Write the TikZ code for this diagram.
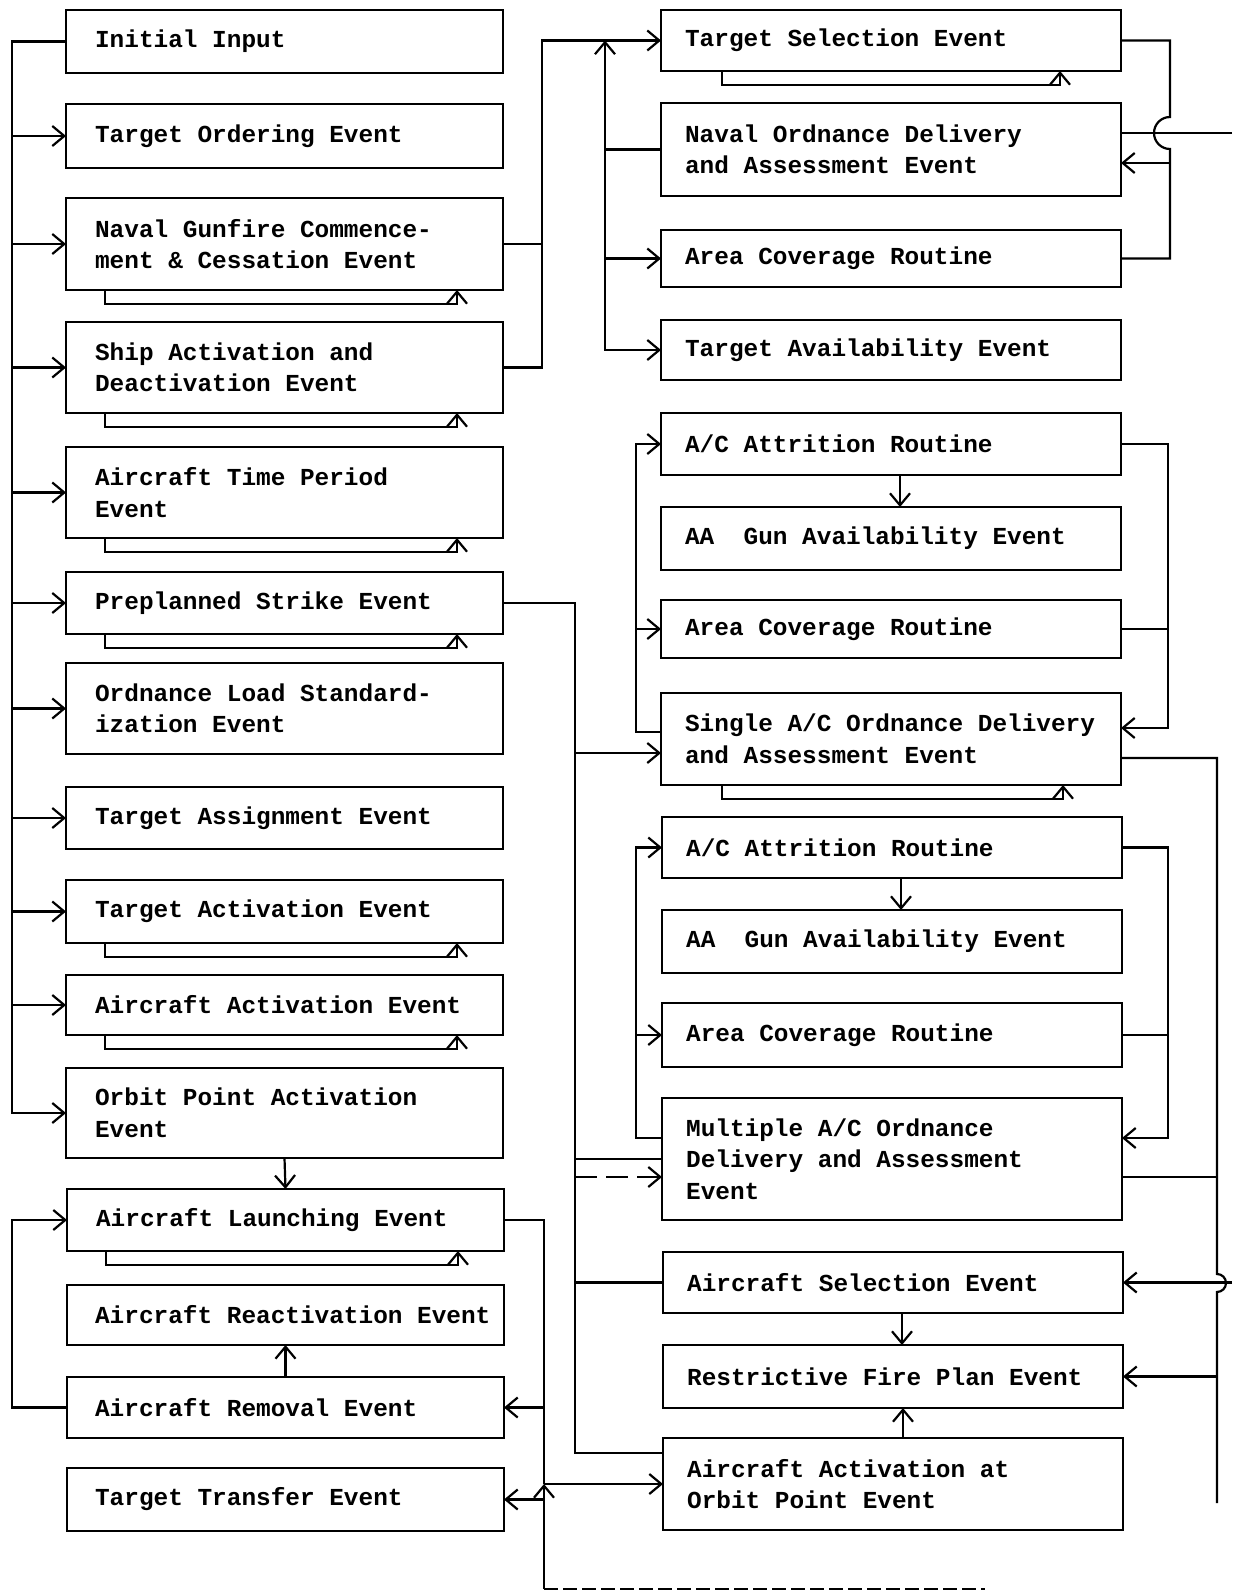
\documentclass[tikz,border=0pt]{standalone}
\usepackage{fontspec}
\setmainfont{Liberation Mono}
\usetikzlibrary{arrows.meta}
\newcommand{\mkbox}[7]{%
  \node[bx, minimum width=#3pt, minimum height={(#5-#4)*1pt}, anchor=north west] (#1) at (#2,-#4) {};
  \node[txt] (#1t) at ([xshift=#7pt]#1.west) {#6};}
\newcommand{\selfloop}[3]{%
  \draw[arr] ([xshift=#2pt]#1.south west) -- ++(0,-14) -| ([xshift=-#3pt]#1.south east);}
\begin{document}
\begin{tikzpicture}[x=1pt,y=1pt,
  bx/.style={draw, line width=2.6pt, inner sep=0pt, outer sep=0pt},
  txt/.style={inner sep=0pt, align=left, anchor=west, font=\fontsize{24.4}{31.5}\selectfont\bfseries},
  ln/.style={line width=2.2pt},
  arr/.style={ln, -{Straight Barb[length=12pt,width=20pt]}},
  every path/.style={line width=2.2pt}
]
\fill[white] (0,0) rectangle (1232,-1592);
\useasboundingbox (0,0) rectangle (1232,-1592);

% ---------- left column ----------
\mkbox{LA}{66}{437}{10}{73}{Initial Input}{28}
\mkbox{LB}{66}{437}{104}{168}{Target Ordering Event}{28}
\mkbox{LC}{66}{437}{198}{290}{Naval Gunfire Commence-\\ment \& Cessation Event}{28}
\mkbox{LD}{66}{437}{322}{413}{Ship Activation and\\Deactivation Event}{28}
\mkbox{LE}{66}{437}{447}{538}{Aircraft Time Period\\Event}{28}
\mkbox{LF}{66}{437}{572}{634}{Preplanned Strike Event}{28}
\mkbox{LG}{66}{437}{663}{754}{Ordnance Load Standard-\\ization Event}{28}
\mkbox{LH}{66}{437}{787}{849}{Target Assignment Event}{28}
\mkbox{LI}{66}{437}{880}{943}{Target Activation Event}{28}
\mkbox{LJ}{66}{437}{975}{1035}{Aircraft Activation Event}{28}
\mkbox{LK}{66}{437}{1068}{1158}{Orbit Point Activation\\Event}{28}
\mkbox{LL}{67}{437}{1189}{1251}{Aircraft Launching Event}{28}
\mkbox{LM}{67}{437}{1285}{1345}{Aircraft Reactivation Event}{27}
\mkbox{LN}{67}{437}{1377}{1438}{Aircraft Removal Event}{27}
\mkbox{LO}{67}{437}{1468}{1531}{Target Transfer Event}{27}

% ---------- right column ----------
\mkbox{TSel}{661}{460}{10}{71}{Target Selection Event}{23}
\mkbox{NOD}{661}{460}{103}{196}{Naval Ordnance Delivery\\and Assessment Event}{23}
\mkbox{ACa}{661}{460}{230}{287}{Area Coverage Routine}{23}
\mkbox{TAv}{661}{460}{320}{380}{Target Availability Event}{23}
\mkbox{Atta}{661}{460}{413}{475}{A/C Attrition Routine}{23}
\mkbox{AAa}{661}{460}{507}{570}{AA\ \ Gun Availability Event}{23}
\mkbox{ACb}{661}{460}{600}{658}{Area Coverage Routine}{23}
\mkbox{Sgl}{661}{460}{693}{785}{Single A/C Ordnance Delivery\\and Assessment Event}{23}
\mkbox{Attb}{662}{460}{817}{878}{A/C Attrition Routine}{23}
\mkbox{AAb}{662}{460}{910}{973}{AA\ \ Gun Availability Event}{23}
\mkbox{ACc}{662}{460}{1003}{1067}{Area Coverage Routine}{23}
\mkbox{Mul}{662}{460}{1098}{1220}{Multiple A/C Ordnance\\Delivery and Assessment\\Event}{23}
\mkbox{ASel}{663}{460}{1252}{1313}{Aircraft Selection Event}{23}
\mkbox{RFP}{663}{460}{1345}{1408}{Restrictive Fire Plan Event}{23}
\mkbox{AAO}{663}{460}{1438}{1530}{Aircraft Activation at\\Orbit Point Event}{23}

% ---------- x positions of buses ----------
\coordinate (xL) at (12,0);
\coordinate (xT) at (542,0);
\coordinate (xS) at (605,0);
\coordinate (xR) at (1170,0);
\coordinate (xM) at (575,0);
\coordinate (xB) at (544,0);
\coordinate (xA) at (636,0);
\coordinate (xC) at (1168,0);
\coordinate (xO) at (1217,0);
\coordinate (xE) at (1232,0);

% ---------- left bus ----------
\draw[arr] (LA.west) -| (LK.west -| xL) -- (LK.west);
\foreach \n in {LB,LC,LD,LE,LF,LG,LH,LI,LJ}
  {\draw[arr] (\n.west -| xL) -- (\n.west);}

% self loops
\foreach \n in {LC,LD,LE,LF,LI,LJ,LL}
  {\selfloop{\n}{39}{46}}
\selfloop{TSel}{61}{61}
\selfloop{Sgl}{61}{58}

% orbit -> launch, removal -> reactivation, removal -> launch
\draw[arr] (LK.south) -- (LL.north);
\draw[arr] (LN.north) -- (LM.south);
\draw[arr] (LN.west) -| (LL.west -| xL) -- (LL.west);

% ---------- top bus to target selection ----------
\draw (LC.east) -- (LC.east -| xT);
\draw[arr] (LD.east) -| (TSel.west -| xT) -- (TSel.west);

\draw[arr] (NOD.west) -- (NOD.west -| xS) -- (TSel.west -| xS);
\draw[arr] (NOD.west -| xS) |- (ACa.west);
\draw[arr] (NOD.west -| xS) |- (TAv.west);

% right top bus with hop
\coordinate (h1) at (1170,-117);
\draw (TSel.east) -| (h1) arc[start angle=90, end angle=270, radius=16pt] |- (ACa.east);
\coordinate (n1) at ([yshift=-13.5pt]NOD.east);
\coordinate (n2) at ([yshift=16.5pt]NOD.east);
\draw[arr] (n1 -| xR) -- (n1);
\draw (n2 -| xE) -- (n2);

% ---------- preplanned strike bus ----------
\coordinate (o1) at ([yshift=31pt]AAO.west);
\coordinate (s1) at ([yshift=-14pt]Sgl.west);
\coordinate (m1) at ([yshift=-18pt]Mul.west);
\draw (LF.east) -| (o1 -| xM) -- (o1);
\draw[arr] (s1 -| xM) -- (s1);
\draw (Mul.west -| xM) -- (Mul.west);
\draw[arr, dash pattern=on 22pt off 9pt] (m1 -| xM) -- (m1);
\draw (ASel.west -| xM) -- (ASel.west);

% ---------- single A/C loop ----------
\coordinate (s2) at ([yshift=7pt]Sgl.west);
\coordinate (s3) at ([yshift=11pt]Sgl.east);
\draw[arr] (s2) -- (s2 -| xA) |- (Atta.west);
\draw[arr] (s2 -| xA) |- (ACb.west);
\draw[arr] (Atta.east) -| (s3 -| xC) -- (s3);
\draw (ACb.east) -- (ACb.east -| xC);
\draw[arr] ([xshift=9pt]Atta.south) -- ([xshift=9pt]AAa.north);

% ---------- multiple A/C loop ----------
\coordinate (m2) at ([yshift=21pt]Mul.west);
\coordinate (m3) at ([yshift=21pt]Mul.east);
\draw[arr] (m2) -- (m2 -| xA) |- (Attb.west);
\draw[arr] (m2 -| xA) |- (ACc.west);
\draw[arr] (Attb.east) -| (m3 -| xC) -- (m3);
\draw (ACc.east) -- (ACc.east -| xC);
\draw[arr] ([xshift=9pt]Attb.south) -- ([xshift=9pt]AAb.north);

% ---------- right outer bus ----------
\coordinate (s4) at ([yshift=-19pt]Sgl.east);
\coordinate (m4) at ([yshift=-18pt]Mul.east);
\coordinate (h2) at (1217,-1274);
\coordinate (oEnd) at (1217,-1503);
\draw (s4) -| (h2) arc[start angle=90, end angle=-90, radius=9pt] -- (oEnd);
\draw (m4) -- (m4 -| xO);
\draw[arr] (ASel.east -| xE) -- (ASel.east);
\draw[arr] (RFP.east -| xO) -- (RFP.east);
\draw[arr] ([xshift=9pt]ASel.south) -- ([xshift=9pt]RFP.north);
\draw[arr] ([xshift=10pt]AAO.north) -- ([xshift=10pt]RFP.south);

% ---------- lower left bus ----------
\coordinate (bot) at (544,-1589);
\draw[arr] (LL.east) -| (LN.east -| xB) -- (LN.east);
\draw (LN.east -| xB) -- (AAO.west -| xB);
\draw[arr] (bot) -- (AAO.west -| xB);
\draw[arr] (AAO.west -| xB) -- (AAO.west);
\draw[arr] (LO.east -| xB) -- (LO.east);
\draw[line width=1.2pt, dash pattern=on 14pt off 5pt] (bot) -- (985,-1589);
\end{tikzpicture}
\end{document}
